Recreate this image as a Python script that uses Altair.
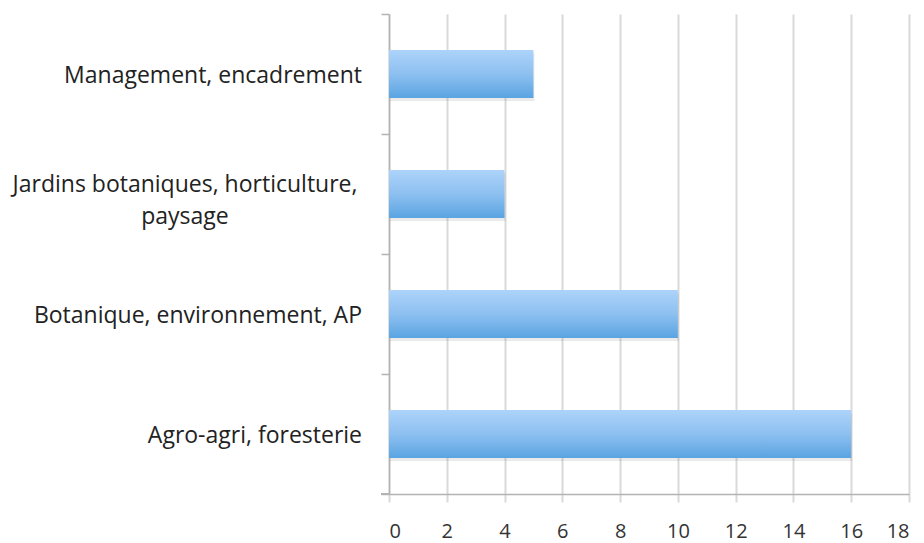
import altair as alt
import pandas as pd

# Categories (top to bottom) and their counts
categories = [
    "Management, encadrement",
    "Jardins botaniques, horticulture, paysage",
    "Botanique, environnement, AP",
    "Agro-agri, foresterie",
]
display_labels = [
    "Management, encadrement",
    "Jardins botaniques, horticulture,\npaysage",
    "Botanique, environnement, AP",
    "Agro-agri, foresterie",
]
multiline = [False, True, False, False]
values = [5, 4, 10, 16]
x_ticks = list(range(0, 19, 2))

df = pd.DataFrame({
    "cat": categories,
    "label": display_labels,
    "multi": multiline,
    "value": values,
})

W, H = 520, 480
FONT = "Open Sans"
GRID = "#d9d9d9"
AXIS = "#b3b3b3"
TEXT = "#222222"

y_enc = alt.Y(
    "cat:N",
    sort=categories,
    scale=alt.Scale(paddingInner=0, paddingOuter=0),
    axis=alt.Axis(
        title=None,
        labels=False,
        tickBand="extent",
        tickSize=8,
        tickColor=AXIS,
        tickWidth=1.5,
        domainColor=AXIS,
        domainWidth=1.5,
        grid=False,
    ),
)

x_enc = alt.X(
    "value:Q",
    scale=alt.Scale(domain=[0, 18], nice=False),
    axis=alt.Axis(
        title=None,
        values=x_ticks,
        tickSize=8,
        tickColor=GRID,
        tickWidth=2,
        domainColor=AXIS,
        domainWidth=1.5,
        grid=True,
        gridColor=GRID,
        gridWidth=2,
        labelFont=FONT,
        labelFontSize=20,
        labelColor="#333333",
        labelPadding=19,
    ),
)

gradient = alt.Gradient(
    gradient="linear",
    x1=0, y1=0, x2=0, y2=1,
    stops=[
        alt.GradientStop(color="#add3fa", offset=0),
        alt.GradientStop(color="#8dc0f0", offset=0.5),
        alt.GradientStop(color="#5aa4e2", offset=1),
    ],
)

BAR = alt.RelativeBandSize(band=0.4)

shadow = alt.Chart(df).mark_bar(
    color="#000000", opacity=0.08, yOffset=3, xOffset=1, height=BAR
).encode(x=x_enc, y=y_enc)

bars = alt.Chart(df).mark_bar(color=gradient, height=BAR).encode(x=x_enc, y=y_enc)

single_labels = alt.Chart(df).transform_filter("!datum.multi").mark_text(
    align="right", baseline="middle", font=FONT, fontSize=23, color=TEXT, dy=2,
).encode(
    y=alt.Y("cat:N", sort=categories),
    x=alt.value(-27),
    text="label:N",
)

multi_labels = alt.Chart(df).transform_filter("datum.multi").mark_text(
    align="center", baseline="middle", font=FONT, fontSize=23, color=TEXT,
    lineBreak="\n", lineHeight=32, dy=-9,
).encode(
    y=alt.Y("cat:N", sort=categories),
    x=alt.value(-204),
    text="label:N",
)

# Extra outward tick at the bottom of the category axis
bottom_tick = alt.Chart(df).mark_rule(color=AXIS, strokeWidth=1.5).encode(
    x=alt.value(-8), x2=alt.value(0), y=alt.value(H)
)

chart = alt.layer(shadow, bars, single_labels, multi_labels, bottom_tick).properties(
    width=W,
    height=H,
    padding={"left": 389, "top": 14, "right": 15, "bottom": 49},
    autosize=alt.AutoSizeParams(type="none"),
).configure(background="white").configure_view(stroke=None)

chart.save("out.html", embed_options={"renderer": "svg", "actions": False})
